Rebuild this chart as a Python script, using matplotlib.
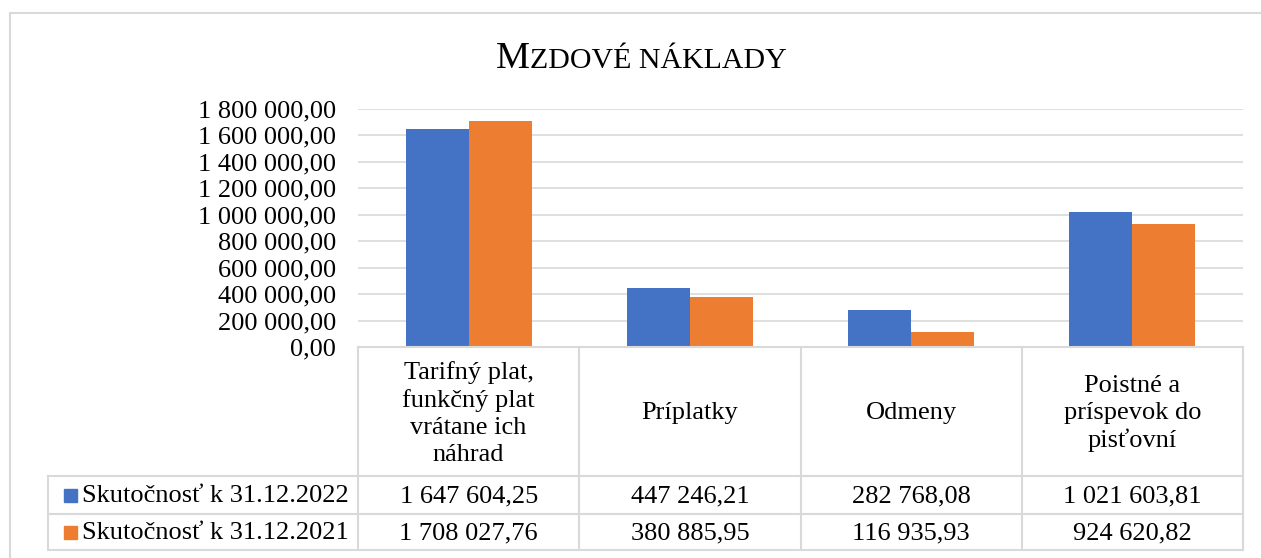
import numpy as np
import matplotlib
matplotlib.use("Agg")
import matplotlib.pyplot as plt
from matplotlib.lines import Line2D
from matplotlib.patches import Rectangle

# data
categories = ["Tarifný plat,\nfunkčný plat\nvrátane ich\nnáhrad", "Príplatky", "Odmeny",
              "Poistné a\npríspevok do\npisťovní"]
series_names = ["Skutočnosť k 31.12.2022", "Skutočnosť k 31.12.2021"]
values_2022 = [1647604.25, 447246.21, 282768.08, 1021603.81]
values_2021 = [1708027.76, 380885.95, 116935.93, 924620.82]
yticks = [0, 200000, 400000, 600000, 800000, 1000000, 1200000, 1400000, 1600000, 1800000]

blue = "#4472C4"
orange = "#ED7D31"
grid_c = "#D9D9D9"
W, H = 1261, 558
fs = 19

plt.rcParams['font.family'] = ['Liberation Serif', 'DejaVu Serif']


def fmt(v):
    s = "{:,.2f}".format(v)
    return s.replace(",", " ").replace(".", ",")


def fx(px):
    return px / W


def fy(py):
    return 1 - py / H


fig = plt.figure(figsize=(W / 100, H / 100), dpi=100)

# outer chart frame
fig.add_artist(Line2D([fx(10), fx(10)], [fy(13), 0], color=grid_c, lw=1.5))
fig.add_artist(Line2D([fx(10), 1], [fy(13), fy(13)], color=grid_c, lw=1.5))

left, right, top, bottom = 358, 1243, 108.5, 347
ax = fig.add_axes([fx(left), fy(bottom), (right - left) / W, (bottom - top) / H])
x = np.arange(len(categories))
width = 0.285
ax.bar(x - width / 2, values_2022, width, color=blue, zorder=3)
ax.bar(x + width / 2, values_2021, width, color=orange, zorder=3)
ax.set_xlim(-0.5, len(categories) - 0.5)
ax.set_ylim(0, 1800000)
ax.set_yticks(yticks)
ax.set_yticklabels([fmt(v) for v in yticks], fontsize=fs)
ax.tick_params(axis='y', length=0, pad=16)
ax.set_xticks([])
ax.grid(axis='y', color=grid_c, lw=1.2, zorder=0)
for s in ax.spines.values():
    s.set_visible(False)

# data table
colw = (right - left) / len(categories)
row_y = [bottom, 476, 514, 550]
leg_left = 48
tl = dict(color=grid_c, lw=1.5)
# horizontal lines
fig.add_artist(Line2D([fx(left), fx(right)], [fy(row_y[0]), fy(row_y[0])], **tl))
for yy in row_y[1:]:
    fig.add_artist(Line2D([fx(leg_left), fx(right)], [fy(yy), fy(yy)], **tl))
# vertical lines
fig.add_artist(Line2D([fx(leg_left), fx(leg_left)], [fy(row_y[1]), fy(row_y[3])], **tl))
for i in range(len(categories) + 1):
    xx = left + i * colw
    fig.add_artist(Line2D([fx(xx), fx(xx)], [fy(row_y[0]), fy(row_y[3])], **tl))

for i, cat in enumerate(categories):
    cx = left + (i + 0.5) * colw
    fig.text(fx(cx), fy((row_y[0] + row_y[1]) / 2 + 2), cat, ha='center', va='center',
             fontsize=fs, linespacing=1.27)
    fig.text(fx(cx), fy((row_y[1] + row_y[2]) / 2 + 1), fmt(values_2022[i]), ha='center',
             va='center', fontsize=fs)
    fig.text(fx(cx), fy((row_y[2] + row_y[3]) / 2 + 1), fmt(values_2021[i]), ha='center',
             va='center', fontsize=fs)

for j, (name, col) in enumerate(zip(series_names, [blue, orange])):
    cy = (row_y[j + 1] + row_y[j + 2]) / 2
    fig.add_artist(Rectangle((fx(64), fy(cy + 6.5)), 13 / W, 13 / H, color=col))
    fig.text(fx(82), fy(cy + 1), name, ha='left', va='center', fontsize=fs)

# title with small caps look
renderer = fig.canvas.get_renderer()
t1 = fig.text(0, fy(68), "M", fontsize=27.5, ha='left', va='baseline')
t2 = fig.text(0, fy(68), "ZDOVÉ NÁKLADY", fontsize=21.5, ha='left', va='baseline')
w1 = t1.get_window_extent(renderer).width
w2 = t2.get_window_extent(renderer).width
x0 = 641 - (w1 + w2) / 2
t1.set_x(fx(x0))
t2.set_x(fx(x0 + w1))

fig.savefig("out.png", dpi=100)
